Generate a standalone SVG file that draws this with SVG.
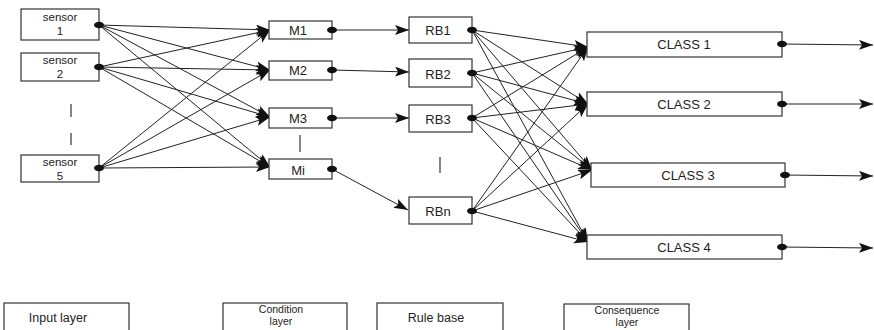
<svg xmlns="http://www.w3.org/2000/svg" width="874" height="330" viewBox="0 0 874 330">
<style>
.box{fill:#fff;stroke:#333;stroke-width:1.2}
.t{font-family:"Liberation Sans",Arial,sans-serif;font-size:13px;fill:#222;text-anchor:middle}
.s{font-family:"Liberation Sans",Arial,sans-serif;font-size:11.5px;fill:#222;text-anchor:middle}
.lt{font-family:"Liberation Sans",Arial,sans-serif;font-size:12.5px;fill:#222;text-anchor:middle}
.l2{font-family:"Liberation Sans",Arial,sans-serif;font-size:10.5px;fill:#222;text-anchor:middle}
.ln{stroke:#222;stroke-width:1;fill:none;marker-end:url(#ah)}
.dot{fill:#111}
.tick{stroke:#333;stroke-width:1.2}
</style>
<defs>
<marker id="ah" markerUnits="userSpaceOnUse" markerWidth="16" markerHeight="12" refX="14" refY="5" orient="auto">
<path d="M0,0 L14,5 L0,10 L3,5 z" fill="#111"/>
</marker>
</defs>
<rect width="874" height="330" fill="#fff"/>
<g id="connectors">
<path class="ln" d="M99,25 L270,30"/><path class="ln" d="M99,25 L270,70"/><path class="ln" d="M99,25 L270,117"/><path class="ln" d="M99,25 L270,167"/>
<path class="ln" d="M99,67 L270,30"/><path class="ln" d="M99,67 L270,70"/><path class="ln" d="M99,67 L270,117"/><path class="ln" d="M99,67 L270,167"/>
<path class="ln" d="M99,168 L270,30"/><path class="ln" d="M99,168 L270,70"/><path class="ln" d="M99,168 L270,117"/><path class="ln" d="M99,168 L270,167"/>
<path class="ln" d="M332,30 L409,30"/><path class="ln" d="M332,70 L409,72"/><path class="ln" d="M332,118 L409,118"/><path class="ln" d="M332,169 L408,210"/>
<path class="ln" d="M472,30 L588,47"/><path class="ln" d="M472,30 L588,104"/><path class="ln" d="M472,30 L592,170"/><path class="ln" d="M472,30 L588,242"/>
<path class="ln" d="M472,73 L588,47"/><path class="ln" d="M472,73 L588,104"/><path class="ln" d="M472,73 L592,170"/><path class="ln" d="M472,73 L588,242"/>
<path class="ln" d="M472,118 L588,47"/><path class="ln" d="M472,118 L588,104"/><path class="ln" d="M472,118 L592,170"/><path class="ln" d="M472,118 L588,242"/>
<path class="ln" d="M472,211 L588,47"/><path class="ln" d="M472,211 L588,104"/><path class="ln" d="M472,211 L592,170"/><path class="ln" d="M472,211 L588,242"/>
<path class="ln" d="M782,44 L873,45"/><path class="ln" d="M782,104 L873,104"/><path class="ln" d="M785,175 L873,176"/><path class="ln" d="M782,247 L873,248"/>
</g>
<g id="sensor1"><rect class="box" x="21" y="9" width="78" height="31"/><text class="s" x="60" y="21">sensor</text><text class="s" x="60" y="35">1</text><ellipse class="dot" cx="99" cy="25" rx="5" ry="3.2"/></g>
<g id="sensor2"><rect class="box" x="21" y="53" width="78" height="28"/><text class="s" x="60" y="64">sensor</text><text class="s" x="60" y="78">2</text><ellipse class="dot" cx="99" cy="67" rx="5" ry="3.2"/></g>
<g id="sensor5"><rect class="box" x="21" y="155" width="78" height="27"/><text class="s" x="60" y="166">sensor</text><text class="s" x="60" y="180">5</text><ellipse class="dot" cx="99" cy="168" rx="5" ry="3.2"/></g>
<g id="dashes"><line class="tick" x1="71" y1="104" x2="71" y2="117"/><line class="tick" x1="71" y1="133" x2="71" y2="145"/><line class="tick" x1="300" y1="135" x2="300" y2="152"/><line class="tick" x1="440" y1="157" x2="440" y2="173"/></g>
<g id="M1"><rect class="box" x="269" y="21" width="63" height="18"/><text class="t" x="298" y="35">M1</text><ellipse class="dot" cx="332" cy="30" rx="5" ry="3.2"/></g>
<g id="M2"><rect class="box" x="269" y="61" width="63" height="19"/><text class="t" x="298" y="75">M2</text><ellipse class="dot" cx="332" cy="70" rx="5" ry="3.2"/></g>
<g id="M3"><rect class="box" x="269" y="108" width="63" height="20"/><text class="t" x="298" y="123">M3</text><ellipse class="dot" cx="332" cy="118" rx="5" ry="3.2"/></g>
<g id="Mi"><rect class="box" x="269" y="159" width="63" height="20"/><text class="t" x="298" y="175">Mi</text><ellipse class="dot" cx="332" cy="169" rx="5" ry="3.2"/></g>
<g id="RB1"><rect class="box" x="409" y="17" width="63" height="26"/><text class="t" x="438" y="35">RB1</text><ellipse class="dot" cx="472" cy="30" rx="5" ry="3.2"/></g>
<g id="RB2"><rect class="box" x="409" y="59" width="63" height="28"/><text class="t" x="438" y="79">RB2</text><ellipse class="dot" cx="472" cy="73" rx="5" ry="3.2"/></g>
<g id="RB3"><rect class="box" x="409" y="105" width="63" height="27"/><text class="t" x="438" y="124">RB3</text><ellipse class="dot" cx="472" cy="118" rx="5" ry="3.2"/></g>
<g id="RBn"><rect class="box" x="409" y="197" width="63" height="27"/><text class="t" x="438" y="216">RBn</text><ellipse class="dot" cx="472" cy="211" rx="5" ry="3.2"/></g>
<g id="class1"><rect class="box" x="587" y="32" width="195" height="25"/><text class="t" x="684" y="49">CLASS 1</text><ellipse class="dot" cx="782" cy="44" rx="5" ry="3.2"/></g>
<g id="class2"><rect class="box" x="587" y="92" width="195" height="24"/><text class="t" x="684" y="109">CLASS 2</text><ellipse class="dot" cx="782" cy="104" rx="5" ry="3.2"/></g>
<g id="class3"><rect class="box" x="591" y="163" width="194" height="24"/><text class="t" x="688" y="180">CLASS 3</text><ellipse class="dot" cx="785" cy="175" rx="5" ry="3.2"/></g>
<g id="class4"><rect class="box" x="587" y="235" width="195" height="24"/><text class="t" x="684" y="252">CLASS 4</text><ellipse class="dot" cx="782" cy="247" rx="5" ry="3.2"/></g>
<g id="legend-input"><rect class="box" x="4" y="303" width="125" height="30"/><text class="lt" x="58" y="322">Input layer</text></g>
<g id="legend-condition"><rect class="box" x="223" y="303" width="124" height="30"/><text class="l2" x="281" y="313">Condition</text><text class="l2" x="281" y="325">layer</text></g>
<g id="legend-rule"><rect class="box" x="377" y="303" width="126" height="30"/><text class="lt" x="436" y="322">Rule base</text></g>
<g id="legend-consequence"><rect class="box" x="564" y="304" width="125" height="30"/><text class="l2" x="627" y="314">Consequence</text><text class="l2" x="627" y="326">layer</text></g>
</svg>
